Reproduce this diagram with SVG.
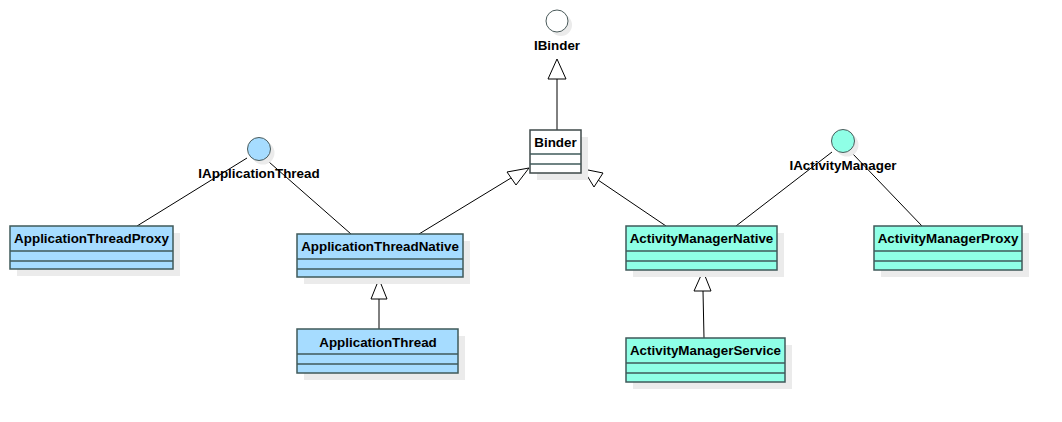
<svg xmlns="http://www.w3.org/2000/svg" width="1062" height="422" viewBox="0 0 1062 422">
<style>
.sh{fill:#ebebeb;stroke:none}
.b{fill:#a6dcff;stroke:#3f5a5a;stroke-width:1.5}
.c{fill:#8fffe6;stroke:#3f5a5a;stroke-width:1.5}
.w{fill:#ffffff;stroke:#3f4a4a;stroke-width:1.5}
.d{stroke:#3f5a5a;stroke-width:1.5;fill:none}
.t{font-family:"Liberation Sans",Arial,sans-serif;font-weight:bold;font-size:13.4px;fill:#000;text-anchor:middle}
.ln{stroke:#000;stroke-width:1;fill:none}
.tri{fill:#fff;stroke:#000;stroke-width:1}
.ci{stroke:#4a5a5a;stroke-width:1}
</style>
<rect width="1062" height="422" fill="#fff"/>
<g id="connectors">
<line class="ln" x1="557" y1="130" x2="557" y2="79"/>
<polygon class="tri" points="557,59 548,79 566,79"/>
<line class="ln" x1="419" y1="234" x2="511" y2="178"/>
<polygon class="tri" points="529,168 507,172 516,185"/>
<line class="ln" x1="666" y1="226" x2="598" y2="180"/>
<polygon class="tri" points="583,169 603,173 594,187"/>
<line class="ln" x1="379" y1="329" x2="379" y2="299"/>
<polygon class="tri" points="379,279 371,299 387,299"/>
<line class="ln" x1="704" y1="338" x2="703" y2="291"/>
<polygon class="tri" points="703,271 694,291 711,291"/>
<line class="ln" x1="247" y1="158" x2="137" y2="226"/>
<line class="ln" x1="269" y1="162" x2="351" y2="234"/>
<line class="ln" x1="832" y1="152" x2="736" y2="226"/>
<line class="ln" x1="852" y1="153" x2="922" y2="226"/>
</g>
<g id="IBinder">
<circle class="sh" cx="561" cy="25" r="11"/>
<circle class="w ci" cx="557" cy="21" r="11"/>
<text class="t" x="557" y="50">IBinder</text>
</g>
<g id="IApplicationThread">
<circle class="sh" cx="263" cy="153" r="11.5"/>
<circle class="ci" fill="#a6dcff" cx="259" cy="149" r="11.5"/>
<text class="t" x="259" y="178">IApplicationThread</text>
</g>
<g id="IActivityManager">
<circle class="sh" cx="847" cy="145" r="11.5"/>
<circle class="ci" fill="#8fffe6" cx="843" cy="141" r="11.5"/>
<text class="t" x="843" y="170">IActivityManager</text>
</g>
<g id="Binder">
<rect class="sh" x="537" y="137" width="51" height="43"/>
<rect class="w" x="530" y="130" width="51" height="43"/>
<line class="d" x1="530" y1="154" x2="581" y2="154"/>
<line class="d" x1="530" y1="164" x2="581" y2="164"/>
<text class="t" x="555.5" y="147">Binder</text>
</g>
<g id="ApplicationThreadProxy">
<rect class="sh" x="17" y="233" width="163" height="43"/>
<rect class="b" x="10" y="226" width="163" height="43"/>
<line class="d" x1="10" y1="251" x2="173" y2="251"/>
<line class="d" x1="10" y1="261" x2="173" y2="261"/>
<text class="t" x="91.5" y="243">ApplicationThreadProxy</text>
</g>
<g id="ApplicationThreadNative">
<rect class="sh" x="304" y="241" width="166" height="43"/>
<rect class="b" x="297" y="234" width="166" height="43"/>
<line class="d" x1="297" y1="259" x2="463" y2="259"/>
<line class="d" x1="297" y1="269" x2="463" y2="269"/>
<text class="t" x="380" y="251">ApplicationThreadNative</text>
</g>
<g id="ApplicationThread">
<rect class="sh" x="304" y="336" width="161" height="44"/>
<rect class="b" x="297" y="329" width="161" height="44"/>
<line class="d" x1="297" y1="354" x2="458" y2="354"/>
<line class="d" x1="297" y1="364" x2="458" y2="364"/>
<text class="t" x="378" y="347">ApplicationThread</text>
</g>
<g id="ActivityManagerNative">
<rect class="sh" x="633" y="233" width="151" height="44"/>
<rect class="c" x="626" y="226" width="151" height="44"/>
<line class="d" x1="626" y1="251" x2="777" y2="251"/>
<line class="d" x1="626" y1="261" x2="777" y2="261"/>
<text class="t" x="701.5" y="243">ActivityManagerNative</text>
</g>
<g id="ActivityManagerProxy">
<rect class="sh" x="881" y="233" width="148" height="44"/>
<rect class="c" x="874" y="226" width="148" height="44"/>
<line class="d" x1="874" y1="251" x2="1022" y2="251"/>
<line class="d" x1="874" y1="261" x2="1022" y2="261"/>
<text class="t" x="948" y="243">ActivityManagerProxy</text>
</g>
<g id="ActivityManagerService">
<rect class="sh" x="633" y="345" width="159" height="44"/>
<rect class="c" x="626" y="338" width="159" height="44"/>
<line class="d" x1="626" y1="363" x2="785" y2="363"/>
<line class="d" x1="626" y1="373" x2="785" y2="373"/>
<text class="t" x="705.5" y="355">ActivityManagerService</text>
</g>
</svg>
